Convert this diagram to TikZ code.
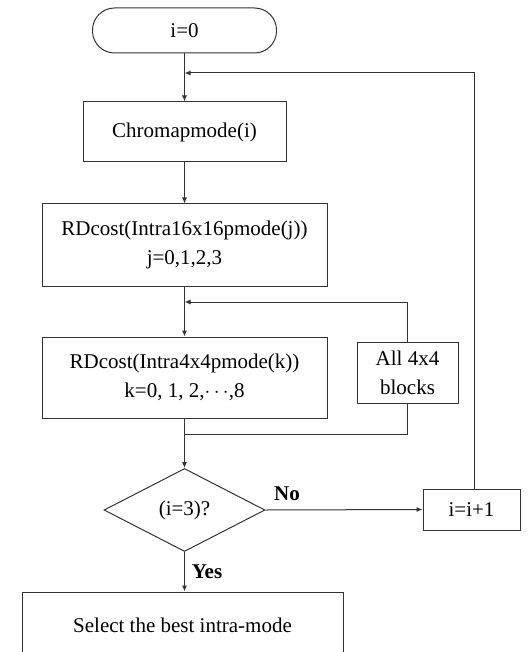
\documentclass[tikz,border=0pt]{standalone}
\usepackage{fontspec}
\setmainfont{Liberation Serif}
\usetikzlibrary{shapes.geometric,arrows.meta}
\tikzset{
    box/.style={rectangle,draw=black!80,line width=1pt,align=center,inner sep=0,
        font=\fontsize{21}{29}\selectfont},
    term/.style={box,rounded corners=22pt},
    test/.style={diamond,draw=black!80,line width=1pt,inner sep=0,
        minimum width=161pt,minimum height=83pt,font=\fontsize{21}{29}\selectfont},
    lbl/.style={font=\fontsize{21}{25}\selectfont\bfseries,inner sep=0},
    flow/.style={draw=black!80,line width=1pt,-{Latex[length=6pt,width=5pt]}},
    wire/.style={draw=black!80,line width=1pt}
}
\begin{document}
\begin{tikzpicture}[x=1pt,y=-1pt]
    \clip (0,0) rectangle (527,652);
    \node[term, minimum width=184pt, minimum height=45pt] (start) at (184.5,30.5) {i=0};
    \node[box, minimum width=203pt, minimum height=60pt] (chroma) at (184.5,132) {Chromapmode(i)};
    \node[box, minimum width=285pt, minimum height=82pt] (rd16) at (184.5,245)
        {RDcost(Intra16x16pmode(j))\\j=0,1,2,3};
    \node[box, minimum width=285pt, minimum height=81pt] (rd4) at (184.5,377.5)
        {RDcost(Intra4x4pmode(k))\\k=0, 1, 2,$\cdots$,8};
    \node[box, minimum width=101pt, minimum height=61pt] (blocks) at (407.5,372.5)
        {All 4x4\\blocks};
    \node[test] (dec) at (184.5,510) {(i=3)?};
    \node[box, minimum width=97pt, minimum height=41pt] (inc) at (471.5,509.5) {i=i+1};
    \node[box, minimum width=321pt, minimum height=66pt] (final) at (182.5,625)
        {Select the best intra-mode};
    \node[lbl] (no) at (287,494) {No};
    \node[lbl] (yes) at (207,572) {Yes};
    \coordinate (top) at (184.5,73);
    \coordinate (inner) at (184.5,302);
    \coordinate (merge) at (184.5,434);
    \draw[flow] (start) -- (chroma);
    \draw[flow] (chroma) -- (rd16);
    \draw[flow] (rd16) -- (rd4);
    \draw[flow] (blocks.north) |- (inner);
    \draw[flow] (rd4) -- (dec);
    \draw[wire] (blocks.south) |- (merge);
    \draw[flow] (dec.east) -- (inc.west);
    \draw[flow] ([xshift=3pt]inc.north) |- (top);
    \draw[flow] (dec.south) -- (final.north -| dec.south);
\end{tikzpicture}
\end{document}
